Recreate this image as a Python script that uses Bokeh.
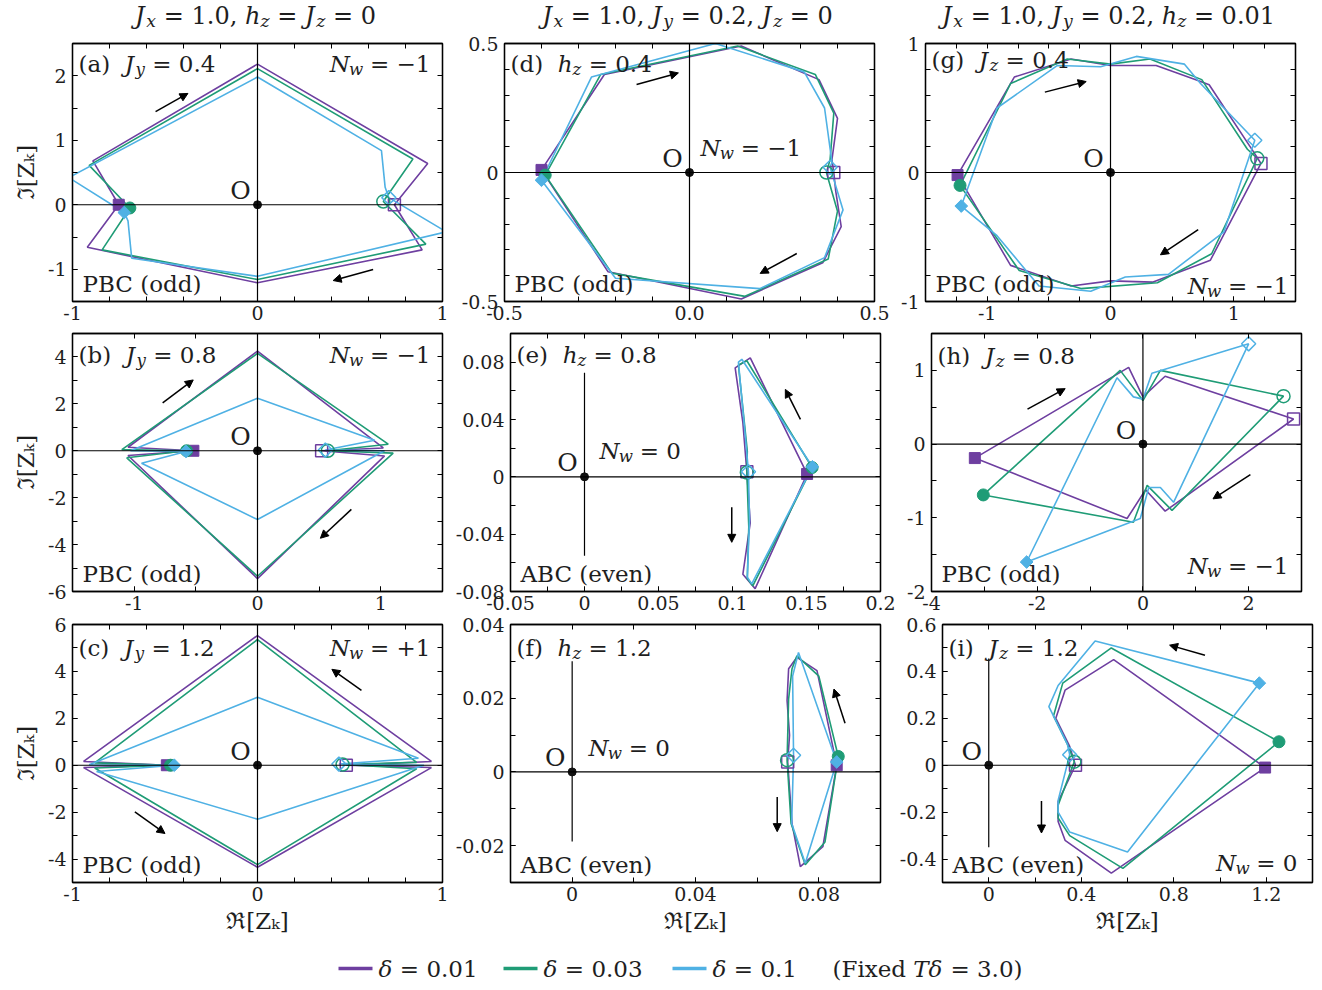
import math
from bokeh.plotting import figure
from bokeh.layouts import column, row
from bokeh.models import (Range1d, FixedTicker, LinearAxis, Label, Arrow,
                          NormalHead, Span)
from bokeh.embed import file_html
from bokeh.resources import INLINE

PURPLE = "#6E3FA0"
GREEN = "#1F9C76"
BLUE = "#4FB1E4"
INK = "#1e1e1e"
FONT = "DejaVu Serif"

DELTA_VALUES = ["0.01", "0.03", "0.1"]
COLORS = [PURPLE, GREEN, BLUE]

# ---------------- loop data Z_k (Re, Im); first point = filled marker ----------------
# (a) Jy = 0.4
a_re_1 = [-0.75, -0.89, 0.0, 0.92, 0.74, 0.89, 0.0, -0.92]
a_im_1 = [0.0, 0.68, 2.18, 0.64, 0.0, -0.70, -1.21, -0.66]
a_re_3 = [-0.69, -0.91, 0.0, 0.84, 0.68, 0.91, 0.0, -0.84]
a_im_3 = [-0.05, 0.61, 2.11, 0.71, 0.05, -0.61, -1.16, -0.70]
a_re_10 = [-0.72, -1.02, 0.0, 0.67, 0.69, 0.71, 1.02, 0.0, -0.68, -0.70]
a_im_10 = [-0.12, 0.42, 1.98, 0.84, 0.27, 0.11, -0.42, -1.11, -0.83, -0.25]
a_open = [4, 4, 5]

# (b) Jy = 0.8
b_re_1 = [-0.52, -1.05, 0.0, 1.02, 0.52, 1.03, 0.0, -1.05]
b_im_1 = [0.0, 0.15, 4.25, 0.12, 0.0, -0.22, -5.45, -0.20]
b_re_3 = [-0.575, -1.10, 0.0, 1.06, 0.57, 1.10, 0.0, -1.06]
b_im_3 = [0.0, 0.05, 4.15, 0.28, 0.0, -0.10, -5.35, -0.30]
b_re_10 = [-0.58, -1.03, 0.0, 0.95, 0.55, 1.03, 0.0, -0.94]
b_im_10 = [-0.03, 0.0, 2.24, 0.45, 0.03, 0.0, -2.93, -0.53]
b_open = [4, 4, 4]

# (c) Jy = 1.2
c_re_1 = [-0.49, -0.94, 0.0, 0.94, 0.48, 0.94, 0.0, -0.94]
c_im_1 = [0.0, -0.10, -4.35, -0.10, 0.0, 0.16, 5.53, 0.16]
c_re_3 = [-0.47, -0.88, 0.0, 0.86, 0.46, 0.86, 0.0, -0.88]
c_im_3 = [0.0, -0.12, -4.24, -0.15, 0.03, 0.12, 5.36, 0.10]
c_re_10 = [-0.45, -0.87, 0.0, 0.90, 0.44, 0.87, 0.0, -0.91]
c_im_10 = [0.0, -0.27, -2.30, 0.0, 0.05, 0.30, 2.90, 0.02]
c_open = [4, 4, 4]

# (d) hz = 0.4
d_re_1 = [-0.40, -0.23, 0.14, 0.35, 0.40, 0.385, 0.39, 0.395, 0.41, 0.36, 0.14, -0.22]
d_im_1 = [0.01, 0.38, 0.49, 0.36, 0.21, 0.05, 0.0, -0.07, -0.21, -0.35, -0.49, -0.385]
d_re_3 = [-0.39, -0.24, 0.13, 0.34, 0.39, 0.38, 0.37, 0.40, 0.375, 0.15, -0.21]
d_im_3 = [-0.01, 0.38, 0.49, 0.38, 0.23, 0.05, 0.0, -0.15, -0.335, -0.48, -0.39]
d_re_10 = [-0.40, -0.265, 0.07, 0.31, 0.365, 0.385, 0.38, 0.415, 0.365, 0.19, -0.20]
d_im_10 = [-0.03, 0.37, 0.50, 0.39, 0.25, 0.04, 0.02, -0.145, -0.33, -0.45, -0.41]
d_open = [6, 6, 6]

# (e) hz = 0.8
e_re_1 = [0.1504, 0.1120, 0.1018, 0.1070, 0.1097, 0.1120, 0.1070, 0.1153]
e_im_1 = [0.002, 0.083, 0.076, 0.038, 0.0035, -0.032, -0.068, -0.078]
e_re_3 = [0.1538, 0.1097, 0.1040, 0.1100, 0.1097, 0.1110, 0.1100, 0.1137]
e_im_3 = [0.0065, 0.081, 0.078, 0.018, 0.003, -0.035, -0.071, -0.076]
e_re_10 = [0.1540, 0.1063, 0.1040, 0.1085, 0.1108, 0.1115, 0.1100, 0.1130]
e_im_10 = [0.007, 0.082, 0.080, 0.030, 0.0035, -0.030, -0.070, -0.0747]
e_open = [4, 4, 4]

# (f) hz = 1.2
f_re_1 = [0.0858, 0.0794, 0.0729, 0.0702, 0.0697, 0.0705, 0.0699, 0.0713, 0.0740, 0.0813]
f_im_1 = [0.0018, 0.0275, 0.0311, 0.0280, 0.0194, 0.0100, 0.0027, -0.0140, -0.0257, -0.0203]
f_re_3 = [0.0863, 0.0800, 0.0729, 0.0713, 0.0702, 0.0697, 0.0710, 0.0756, 0.0820]
f_im_3 = [0.0042, 0.0260, 0.0315, 0.0280, 0.0198, 0.0032, -0.0140, -0.0252, -0.0190]
f_re_10 = [0.0858, 0.0734, 0.0715, 0.0718, 0.0712, 0.0756]
f_im_10 = [0.0027, 0.0324, 0.0260, 0.0045, -0.0140, -0.0248]
f_open = [6, 5, 3]

# (g) Jz = 0.4
g_re_1 = [-1.24, -0.78, -0.32, 0.0, 0.37, 0.72, 0.80, 1.16, 1.22, 0.81, 0.34, 0.0, -0.32, -0.81]
g_im_1 = [-0.02, 0.74, 0.88, 0.83, 0.83, 0.71, 0.68, 0.16, 0.07, -0.68, -0.85, -0.84, -0.88, -0.72]
g_re_3 = [-1.22, -0.81, -0.35, 0.0, 0.32, 0.74, 1.11, 1.19, 0.82, 0.38, -0.24, -0.74]
g_im_3 = [-0.10, 0.69, 0.88, 0.84, 0.88, 0.72, 0.18, 0.11, -0.63, -0.855, -0.90, -0.76]
g_re_10 = [-1.21, -0.92, -0.43, -0.08, 0.21, 0.60, 0.73, 1.17, 0.92, 0.47, 0.12, -0.16, -0.58, -0.92]
g_im_10 = [-0.26, 0.50, 0.83, 0.82, 0.90, 0.84, 0.69, 0.25, -0.46, -0.79, -0.81, -0.92, -0.88, -0.49]
g_open = [8, 7, 7]

# (h) Jz = 0.8
h_re_1 = [-3.18, -0.27, 0.0, 0.42, 2.85, 0.42, 0.05, -0.30]
h_im_1 = [-0.19, 1.04, 0.64, 0.92, 0.34, -0.91, -0.62, -1.01]
h_re_3 = [-3.02, -0.43, 0.0, 0.33, 2.66, 0.55, 0.08, -0.18]
h_im_3 = [-0.69, 1.00, 0.59, 1.00, 0.65, -0.90, -0.56, -1.06]
h_re_10 = [-2.20, -0.49, -0.18, 0.0, 0.17, 2.00, 0.58, 0.33, 0.11, -0.05]
h_im_10 = [-1.60, 0.90, 0.64, 0.61, 0.96, 1.36, -0.79, -0.59, -0.59, -1.01]
h_open = [4, 4, 5]

# (i) Jz = 1.2
i_re_1 = [1.195, 0.54, 0.33, 0.29, 0.35, 0.375, 0.30, 0.30, 0.33, 0.53]
i_im_1 = [-0.01, 0.45, 0.32, 0.20, 0.08, 0.0, -0.155, -0.24, -0.32, -0.46]
i_re_3 = [1.255, 0.53, 0.32, 0.28, 0.34, 0.37, 0.30, 0.30, 0.35, 0.58]
i_im_3 = [0.10, 0.50, 0.35, 0.21, 0.09, 0.015, -0.17, -0.225, -0.30, -0.44]
i_re_10 = [1.17, 0.46, 0.30, 0.26, 0.29, 0.34, 0.35, 0.30, 0.30, 0.35, 0.60]
i_im_10 = [0.35, 0.53, 0.34, 0.25, 0.19, 0.09, 0.045, -0.15, -0.20, -0.285, -0.37]
i_open = [5, 5, 6]

# ---------------- layout geometry (pixels) ----------------
FW, FH = 370, 258
BL = [72, 52, 35]
BR = [10, 16, 27]
TITLE_H = 32
LEGEND_H = 48
BT = [11, 6, 9]
BB = [26, 24, 60]

TICK_PX = 19
TEXT_PX = 23

# approximate advance widths (em) of DejaVu Serif, used to lay out mixed-style text
CHAR_W = {" ": 0.318, "(": 0.39, ")": 0.39, ",": 0.318, ".": 0.318, "=": 0.838,
          "+": 0.838, "−": 0.838, "-": 0.338, "a": 0.596, "b": 0.64, "c": 0.562,
          "d": 0.64, "e": 0.592, "f": 0.37, "g": 0.64, "h": 0.645, "i": 0.32,
          "k": 0.61, "n": 0.645, "o": 0.602, "v": 0.566, "w": 0.82, "x": 0.566,
          "y": 0.566, "z": 0.526, "A": 0.722, "B": 0.762, "C": 0.734, "E": 0.73,
          "F": 0.686, "J": 0.47, "N": 0.84, "O": 0.787, "P": 0.733, "T": 0.685,
          "Z": 0.72, "δ": 0.61}
for _d in "0123456789":
    CHAR_W[_d] = 0.636


def text_w(s, size):
    return sum(CHAR_W.get(ch, 0.6) for ch in s) * size


def to_data(P, fx, fy):
    x0, x1 = P["xr"]
    y0, y1 = P["yr"]
    return x0 + fx / FW * (x1 - x0), y1 - fy / FH * (y1 - y0)


def math_text(p, x, y, tokens, size, align="left"):
    """Lay out a run of upright / italic / subscript pieces; (x, y) is the text's mid-line."""
    pieces = []
    cur = 0.0
    for txt, st in tokens:
        sz = size * 0.72 if st == "sub" else size
        lead = len(txt) - len(txt.lstrip(" "))
        pieces.append((cur + lead * CHAR_W[" "] * sz, txt.strip(" "), st, sz))
        cur += text_w(txt, sz)
    shift = {"left": 0.0, "center": -cur / 2.0, "right": -cur}[align]
    for off, txt, st, sz in pieces:
        p.add_layout(Label(
            x=x, y=y, x_offset=off + shift,
            y_offset=(-0.24 * size if st == "sub" else 0.0),
            text=txt, text_font=FONT,
            text_font_style=("normal" if st == "rm" else "italic"),
            text_font_size=f"{sz:.1f}px", text_color=INK,
            text_align="left", text_baseline="alphabetic"))


def math_at(p, P, fx, fy, tokens, size, align="left"):
    x, y = to_data(P, fx, fy)
    math_text(p, x, y, tokens, size, align)


def nw(val):
    return [("N", "it"), ("w", "sub"), (" = " + val, "rm")]


def tag(letter, sym, sub, val):
    return [("(" + letter + ")  ", "rm"), (sym, "it"), (sub, "sub"), (" = " + val, "rm")]


PANELS = {
    "a": dict(col=0, row=0, xr=(-1.0, 1.0), yr=(-1.5, 2.5), xstep=0.2, ystep=0.5,
              xlab={-1.0: "-1", 0.0: "0", 1.0: "1"},
              ylab={-1.0: "-1", 0.0: "0", 1.0: "1", 2.0: "2"},
              re=[a_re_1, a_re_3, a_re_10], im=[a_im_1, a_im_3, a_im_10], opens=a_open,
              tag=tag("a", "J", "y", "0.4"), tag_y=20,
              nw=nw("−1"), nw_at=(FW - 12, 20, "right"), bc="PBC (odd)",
              arrows=[(-0.551, 1.443, -0.376, 1.726), (0.625, -1.005, 0.409, -1.175)],
              vline=None),
    "b": dict(col=0, row=1, xr=(-1.5, 1.5), yr=(-6.0, 5.0), xstep=0.5, ystep=1.0,
              xlab={-1.0: "-1", 0.0: "0", 1.0: "1"},
              ylab={-6.0: "-6", -4.0: "-4", -2.0: "-2", 0.0: "0", 2.0: "2", 4.0: "4"},
              re=[b_re_1, b_re_3, b_re_10], im=[b_im_1, b_im_3, b_im_10], opens=b_open,
              tag=tag("b", "J", "y", "0.8"), tag_y=21,
              nw=nw("−1"), nw_at=(FW - 12, 21, "right"), bc="PBC (odd)",
              arrows=[(-0.769, 2.04, -0.521, 3.02), (0.761, -2.50, 0.510, -3.73)],
              vline=None),
    "c": dict(col=0, row=2, xr=(-1.0, 1.0), yr=(-5.0, 6.0), xstep=0.2, ystep=1.0,
              xlab={-1.0: "-1", 0.0: "0", 1.0: "1"},
              ylab={-4.0: "-4", -2.0: "-2", 0.0: "0", 2.0: "2", 4.0: "4", 6.0: "6"},
              re=[c_re_1, c_re_3, c_re_10], im=[c_im_1, c_im_3, c_im_10], opens=c_open,
              tag=tag("c", "J", "y", "1.2"), tag_y=23,
              nw=nw("+1"), nw_at=(FW - 12, 23, "right"), bc="PBC (odd)",
              arrows=[(0.562, 3.19, 0.402, 4.09), (-0.663, -1.99, -0.50, -2.91)],
              vline=None),
    "d": dict(col=1, row=0, xr=(-0.5, 0.5), yr=(-0.5, 0.5), xstep=0.1, ystep=0.1,
              xlab={-0.5: "-0.5", 0.0: "0.0", 0.5: "0.5"},
              ylab={-0.5: "-0.5", 0.0: "0", 0.5: "0.5"},
              re=[d_re_1, d_re_3, d_re_10], im=[d_im_1, d_im_3, d_im_10], opens=d_open,
              tag=tag("d", "h", "z", "0.4"), tag_y=20,
              nw=nw("−1"), nw_at=(196, 104, "left"), bc="PBC (odd)",
              arrows=[(-0.143, 0.341, -0.030, 0.386), (0.29, -0.314, 0.191, -0.391)],
              vline=None),
    "e": dict(col=1, row=1, xr=(-0.05, 0.2), yr=(-0.08, 0.1), xstep=0.025, ystep=0.02,
              xlab={-0.05: "-0.05", 0.0: "0", 0.05: "0.05", 0.1: "0.1", 0.15: "0.15", 0.2: "0.2"},
              ylab={-0.08: "-0.08", -0.04: "-0.04", 0.0: "0", 0.04: "0.04", 0.08: "0.08"},
              re=[e_re_1, e_re_3, e_re_10], im=[e_im_1, e_im_3, e_im_10], opens=e_open,
              tag=tag("e", "h", "z", "0.8"), tag_y=21,
              nw=nw("0"), nw_at=(89, 117, "left"), bc="ABC (even)",
              arrows=[(0.1459, 0.0401, 0.1357, 0.061), (0.0995, -0.0213, 0.0995, -0.0457)],
              vline=(-0.055, 0.0726)),
    "f": dict(col=1, row=2, xr=(-0.02, 0.1), yr=(-0.03, 0.04), xstep=0.02, ystep=0.01,
              xlab={0.0: "0", 0.04: "0.04", 0.08: "0.08"},
              ylab={-0.02: "-0.02", 0.0: "0", 0.02: "0.02", 0.04: "0.04"},
              re=[f_re_1, f_re_3, f_re_10], im=[f_im_1, f_im_3, f_im_10], opens=f_open,
              tag=tag("f", "h", "z", "1.2"), tag_y=23,
              nw=nw("0"), nw_at=(78, 123, "left"), bc="ABC (even)",
              arrows=[(0.0885, 0.0132, 0.0849, 0.0225), (0.0665, -0.0068, 0.0665, -0.0162)],
              vline=(-0.0189, 0.030)),
    "g": dict(col=2, row=0, xr=(-1.5, 1.5), yr=(-1.0, 1.0), xstep=0.25, ystep=0.2,
              xlab={-1.0: "-1", 0.0: "0", 1.0: "1"},
              ylab={-1.0: "-1", 0.0: "0", 1.0: "1"},
              re=[g_re_1, g_re_3, g_re_10], im=[g_im_1, g_im_3, g_im_10], opens=g_open,
              tag=tag("g", "J", "z", "0.4"), tag_y=16,
              nw=nw("−1"), nw_at=(FW - 7, FH - 16, "right"), bc="PBC (odd)",
              arrows=[(-0.532, 0.623, -0.197, 0.705), (0.711, -0.442, 0.405, -0.638)],
              vline=None),
    "h": dict(col=2, row=1, xr=(-4.0, 3.0), yr=(-2.0, 1.5), xstep=1.0, ystep=0.5,
              xlab={-4.0: "-4", -2.0: "-2", 0.0: "0", 2.0: "2"},
              ylab={-2.0: "-2", -1.0: "-1", 0.0: "0", 1.0: "1"},
              re=[h_re_1, h_re_3, h_re_10], im=[h_im_1, h_im_3, h_im_10], opens=h_open,
              tag=tag("h", "J", "z", "0.8"), tag_y=22,
              nw=nw("−1"), nw_at=(FW - 13, FH - 26, "right"), bc="PBC (odd)",
              arrows=[(-2.184, 0.473, -1.471, 0.752), (2.033, -0.414, 1.326, -0.743)],
              vline=None),
    "i": dict(col=2, row=2, xr=(-0.2, 1.4), yr=(-0.5, 0.6), xstep=0.2, ystep=0.1,
              xlab={0.0: "0", 0.4: "0.4", 0.8: "0.8", 1.2: "1.2"},
              ylab={-0.4: "-0.4", -0.2: "-0.2", 0.0: "0", 0.2: "0.2", 0.4: "0.4", 0.6: "0.6"},
              re=[i_re_1, i_re_3, i_re_10], im=[i_im_1, i_im_3, i_im_10], opens=i_open,
              tag=tag("i", "J", "z", "1.2"), tag_y=23,
              nw=nw("0"), nw_at=(FW - 15, FH - 20, "right"), bc="ABC (even)",
              arrows=[(0.935, 0.469, 0.782, 0.512), (0.228, -0.152, 0.228, -0.289)],
              vline=(-0.35, 0.455)),
}

COLUMN_TITLES = [
    [("J", "it"), ("x", "sub"), (" = 1.0, ", "rm"), ("h", "it"), ("z", "sub"), (" = ", "rm"),
     ("J", "it"), ("z", "sub"), (" = 0", "rm")],
    [("J", "it"), ("x", "sub"), (" = 1.0, ", "rm"), ("J", "it"), ("y", "sub"), (" = 0.2, ", "rm"),
     ("J", "it"), ("z", "sub"), (" = 0", "rm")],
    [("J", "it"), ("x", "sub"), (" = 1.0, ", "rm"), ("J", "it"), ("y", "sub"), (" = 0.2, ", "rm"),
     ("h", "it"), ("z", "sub"), (" = 0.01", "rm")],
]


def grid_ticks(lo, hi, step):
    n = int(round((hi - lo) / step))
    return [round(lo + k * step, 6) for k in range(n + 1)]


def style_axis(ax, major, minor, labels=None):
    ax.ticker = FixedTicker(ticks=major, minor_ticks=minor)
    ax.axis_line_color = "black"
    ax.axis_line_width = 1.3
    ax.major_tick_in = 5
    ax.major_tick_out = 0
    ax.minor_tick_in = 5
    ax.minor_tick_out = 0
    ax.major_tick_line_color = "black"
    ax.minor_tick_line_color = "black"
    ax.major_tick_line_width = 1
    ax.minor_tick_line_width = 1
    if labels:
        ax.major_label_overrides = labels
        ax.major_label_text_font = FONT
        ax.major_label_text_font_size = f"{TICK_PX}px"
        ax.major_label_text_color = INK
        ax.major_label_standoff = 4


def style_axis_label(ax, text, standoff):
    ax.axis_label = text
    ax.axis_label_text_font = FONT
    ax.axis_label_text_font_style = "normal"
    ax.axis_label_text_font_size = "23px"
    ax.axis_label_text_color = INK
    ax.axis_label_standoff = standoff


def make_panel(P):
    c, r = P["col"], P["row"]
    p = figure(frame_width=FW, frame_height=FH,
               x_range=Range1d(*P["xr"]), y_range=Range1d(*P["yr"]),
               min_border_left=BL[c], min_border_right=BR[c],
               min_border_top=BT[r], min_border_bottom=BB[r],
               toolbar_location=None, output_backend="svg",
               background_fill_color="white", border_fill_color="white",
               outline_line_color="black", outline_line_width=1.3)
    p.grid.visible = False

    xmaj = sorted(P["xlab"].keys())
    ymaj = sorted(P["ylab"].keys())
    xmin = grid_ticks(P["xr"][0], P["xr"][1], P["xstep"])
    ymin = grid_ticks(P["yr"][0], P["yr"][1], P["ystep"])
    bottom = p.below[0]
    left = p.left[0]
    style_axis(bottom, xmaj, xmin, P["xlab"])
    style_axis(left, ymaj, ymin, P["ylab"])
    left.major_label_standoff = 6
    # mirrored tick marks on the top and right edges (minor ticks only, no labels)
    top = LinearAxis()
    right = LinearAxis()
    style_axis(top, [], xmin)
    style_axis(right, [], ymin)
    p.add_layout(top, "above")
    p.add_layout(right, "right")

    if r == 2:
        style_axis_label(bottom, "ℜ[Zₖ]", 4)
    if c == 0:
        style_axis_label(left, "ℑ[Zₖ]", 6)

    # axes through the origin
    p.add_layout(Span(location=0, dimension="width", line_color="black", line_width=1.2))
    if P["vline"] is None:
        p.add_layout(Span(location=0, dimension="height", line_color="black", line_width=1.2))
    else:
        lo, hi = P["vline"]
        p.segment(x0=[0], y0=[lo], x1=[0], y1=[hi], line_color="black", line_width=1.2)
    p.scatter(x=[0], y=[0], size=8, color="#111111")
    p.add_layout(Label(x=0, y=0, x_offset=-17, y_offset=14, text="O", text_font=FONT,
                       text_font_size="25px", text_color=INK,
                       text_align="center", text_baseline="middle"))

    # closed loops
    for re_k, im_k, col in zip(P["re"], P["im"], COLORS):
        p.line(x=re_k + [re_k[0]], y=im_k + [im_k[0]], line_color=col, line_width=1.6)

    # filled marker at the start, open marker at the mid-point of each loop
    marks = [("square", 11, 0.0), ("circle", 12, 0.0), ("square", 9, math.pi / 4)]
    for re_k, im_k, col, (mk, sz, ang), k_open in zip(P["re"], P["im"], COLORS, marks, P["opens"]):
        p.scatter(x=[re_k[0]], y=[im_k[0]], marker=mk, size=sz, angle=ang,
                  fill_color=col, line_color=col, line_width=1)
        p.scatter(x=[re_k[k_open]], y=[im_k[k_open]], marker=mk, size=sz + 1, angle=ang,
                  fill_color=None, line_color=col, line_width=1.5)

    # winding direction arrows
    for xs, ys, xe, ye in P["arrows"]:
        p.add_layout(Arrow(x_start=xs, y_start=ys, x_end=xe, y_end=ye,
                           line_color="black", line_width=1.5,
                           end=NormalHead(size=8, fill_color="black", line_color="black",
                                          line_width=1)))

    # annotations
    math_at(p, P, 6, P["tag_y"], P["tag"], TEXT_PX)
    fx, fy, al = P["nw_at"]
    math_at(p, P, fx, fy, P["nw"], TEXT_PX, al)
    math_at(p, P, 10, FH - 18, [(P["bc"], "rm")], TEXT_PX)
    return p


figs = {k: make_panel(P) for k, P in PANELS.items()}


def strip(height):
    s = figure(width=1322, height=height, x_range=Range1d(0, 1322), y_range=Range1d(0, height),
               toolbar_location=None, output_backend="svg", min_border=0,
               outline_line_color=None, x_axis_type=None, y_axis_type=None,
               background_fill_color="white", border_fill_color="white")
    s.grid.visible = False
    return s


# column headings
head = strip(TITLE_H)
col_left = [BL[0], BL[0] + FW + BR[0] + BL[1],
            BL[0] + FW + BR[0] + BL[1] + FW + BR[1] + BL[2]]
for c in range(3):
    math_text(head, col_left[c] + FW / 2 - 2, TITLE_H - 15, COLUMN_TITLES[c], 24, "center")

# shared legend strip: colour key for the three step sizes
leg = strip(LEGEND_H)
LEG_MID = LEGEND_H - 26
LEG_SAMPLE_X = [338, 503, 672]
SAMPLE_LEN = 34
for x0, val, col in zip(LEG_SAMPLE_X, DELTA_VALUES, COLORS):
    leg.segment(x0=[x0], y0=[LEG_MID], x1=[x0 + SAMPLE_LEN], y1=[LEG_MID],
                line_color=col, line_width=3.5)
    math_text(leg, x0 + SAMPLE_LEN + 6, LEG_MID, [("δ", "it"), (" = " + val, "rm")], TEXT_PX)
math_text(leg, 832, LEG_MID, [("(Fixed ", "rm"), ("Tδ", "it"), (" = 3.0)", "rm")], TEXT_PX)

layout = column(
    head,
    row(figs["a"], figs["d"], figs["g"]),
    row(figs["b"], figs["e"], figs["h"]),
    row(figs["c"], figs["f"], figs["i"]),
    leg,
)

open("out.html", "w").write(file_html(layout, INLINE))
